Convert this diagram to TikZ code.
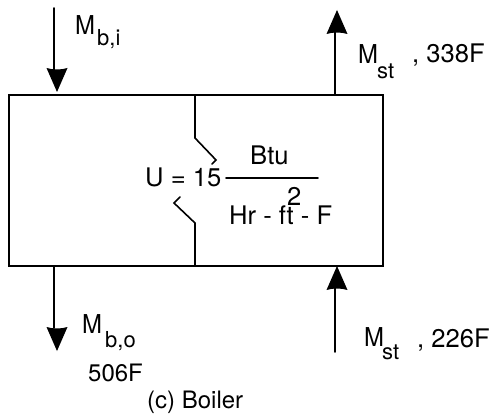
\documentclass[tikz,border=0pt]{standalone}
\usepackage{fontspec}
\setmainfont{TeX Gyre Heros}
\newcommand{\massM}{\scalebox{.92}[1]{M}}
\tikzset{
  wall/.style={line width=1.6pt,line cap=round},
  head/.style={fill=black,draw=none},
  lbl/.style={inner sep=0pt,anchor=base west,font=\fontsize{26}{28}\selectfont},
  sub/.style={inner sep=0pt,anchor=base west,font=\fontsize{22}{24}\selectfont},
  note/.style={inner sep=0pt,anchor=base west,font=\fontsize{24}{26}\selectfont},
  txt/.style={inner sep=0pt,anchor=base west,font=\fontsize{25.6}{28}\selectfont}
}
\begin{document}
\begin{tikzpicture}[x=1pt,y=-1pt]
\useasboundingbox (0,0) rectangle (493,417);
\coordinate (tl) at (9,95);
\coordinate (br) at (383,266);
\draw[wall] (tl) rectangle (br);
% baffle
\draw[wall] (195,95) -- (195,138) -- (216,160) -- (212,164);
\draw[wall] (195,266) -- (195,223) -- (174,203) -- (180,197);
\draw[wall] (226,178) -- (318,178);
% streams
\draw[wall] (54,8) -- (54,70);
\draw[wall] (54,266) -- (54,328);
\draw[wall] (335,95) -- (335,31);
\draw[wall] (335,352) -- (335,288);
\foreach \tipx/\tipy/\dir in {57/92/-1, 57/351/-1, 337/10/1, 337/266/1} {
  \fill[head] (\tipx,\tipy) -- (\tipx+10.5,\tipy+\dir*24) .. controls (\tipx+4,\tipy+\dir*22) and (\tipx-4,\tipy+\dir*22) .. (\tipx-10.5,\tipy+\dir*24) -- cycle;
}
\node[lbl] (mbi) at (75,35) {\massM};
\node[sub] (mbisub) at (97,46) {b,i};
\node[lbl] (mbo) at (82,333) {\massM};
\node[sub] (mbosub) at (105,347) {b,o};
\node[note] (tout) at (88,381) {506F};
\node[note] (cap) at (147,408) {(c) Boiler};
\node[lbl] (mst) at (358,64) {\massM};
\node[sub] (mstsub) at (377,79) {st};
\node[txt] (thot) at (412,63) {, 338F};
\node[lbl] (msb) at (364,346) {\massM};
\node[sub] (msbsub) at (382,359) {st};
\node[txt] (tcold) at (417,347) {, 226F};
\node[txt] (u) at (145,187) {U = 15};
\node[txt] (btu) at (250,165) {Btu};
\node[txt] (hr) at (229,224) {Hr - ft - F};
\node[txt] (sq) at (287,205) {2};
\end{tikzpicture}
\end{document}
